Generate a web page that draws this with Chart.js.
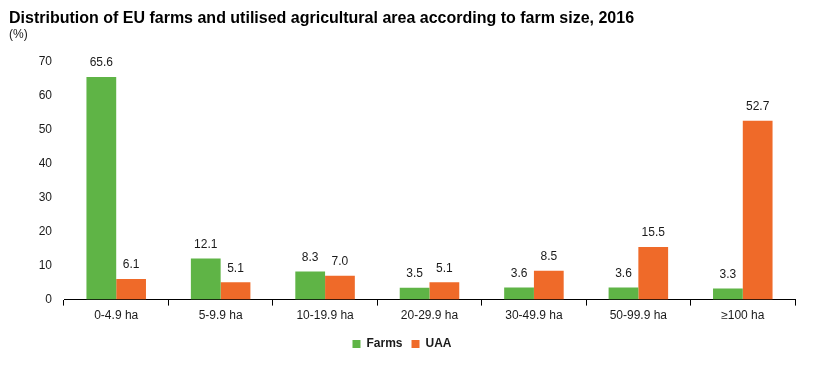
<!DOCTYPE html>
<html>
<head>
<meta charset="utf-8">
<script src="https://cdn.jsdelivr.net/npm/chart.js@4/dist/chart.umd.min.js"></script>
<style>
html,body{margin:0;padding:0;background:#fff;}
#wrap{width:836px;height:375px;position:relative;}
</style>
</head>
<body>
<div id="wrap"><canvas id="c" width="836" height="375"></canvas></div>
<script>
const categories = ['0-4.9 ha','5-9.9 ha','10-19.9 ha','20-29.9 ha','30-49.9 ha','50-99.9 ha','\u2265100 ha'];
const farms = [65.6, 12.1, 8.3, 3.5, 3.6, 3.6, 3.3];
const uaa = [6.1, 5.1, 7.0, 5.1, 8.5, 15.5, 52.7];
const yTicks = [0,10,20,30,40,50,60,70];

const FONT = "'Liberation Sans', Arial, sans-serif";
Chart.defaults.font.family = FONT;
Chart.defaults.color = '#1a1a1a';

const valueLabels = {
  id: 'valueLabels',
  afterDatasetsDraw(chart) {
    const ctx = chart.ctx;
    ctx.save();
    ctx.font = '12px ' + FONT;
    ctx.fillStyle = '#1a1a1a';
    ctx.textAlign = 'center';
    ctx.textBaseline = 'bottom';
    chart.data.datasets.forEach((ds, i) => {
      const meta = chart.getDatasetMeta(i);
      meta.data.forEach((bar, j) => {
        ctx.fillText(ds.data[j].toFixed(1), bar.x, bar.y - 8);
      });
    });
    ctx.restore();
  }
};

new Chart(document.getElementById('c'), {
  type: 'bar',
  data: {
    labels: categories,
    datasets: [
      {label: 'Farms', data: farms, backgroundColor: '#5fb446', borderWidth: 0},
      {label: 'UAA', data: uaa, backgroundColor: '#ef6a29', borderWidth: 0}
    ]
  },
  options: {
    responsive: false,
    animation: false,
    devicePixelRatio: 1,
    layout: {padding: {left: 9, right: 41, top: 0, bottom: 15}},
    datasets: {bar: {categoryPercentage: 0.57, barPercentage: 1.0}},
    plugins: {
      title: {
        display: true, text: 'Distribution of EU farms and utilised agricultural area according to farm size, 2016',
        align: 'start', color: '#000',
        font: {size: 16, weight: 'bold', lineHeight: 1.1},
        padding: {top: 10, bottom: 0}
      },
      subtitle: {
        display: true, text: '(%)', align: 'start', color: '#1a1a1a',
        font: {size: 12, lineHeight: 1.2},
        padding: {top: 0, bottom: 20}
      },
      legend: {
        position: 'bottom',
        labels: {
          boxWidth: 8, boxHeight: 8, padding: 9, color: '#1a1a1a',
          font: {size: 12, weight: 'bold'}
        }
      },
      tooltip: {enabled: false}
    },
    scales: {
      x: {
        afterFit(scale) { scale.height = scale.height + 3; },
        grid: {display: true, drawOnChartArea: false, drawTicks: true, tickLength: 6, color: '#000', offset: true},
        border: {display: true, color: '#000', width: 1},
        ticks: {padding: 3, font: {size: 12}, color: '#1a1a1a', maxRotation: 0}
      },
      y: {
        min: 0, max: 70,
        afterFit(scale) { scale.width = 55; },
        afterBuildTicks(scale) { scale.ticks = yTicks.map(v => ({value: v})); },
        grid: {display: false},
        border: {display: false},
        ticks: {padding: 4, font: {size: 12}, color: '#1a1a1a'}
      }
    }
  },
  plugins: [valueLabels]
});
</script>
</body>
</html>
